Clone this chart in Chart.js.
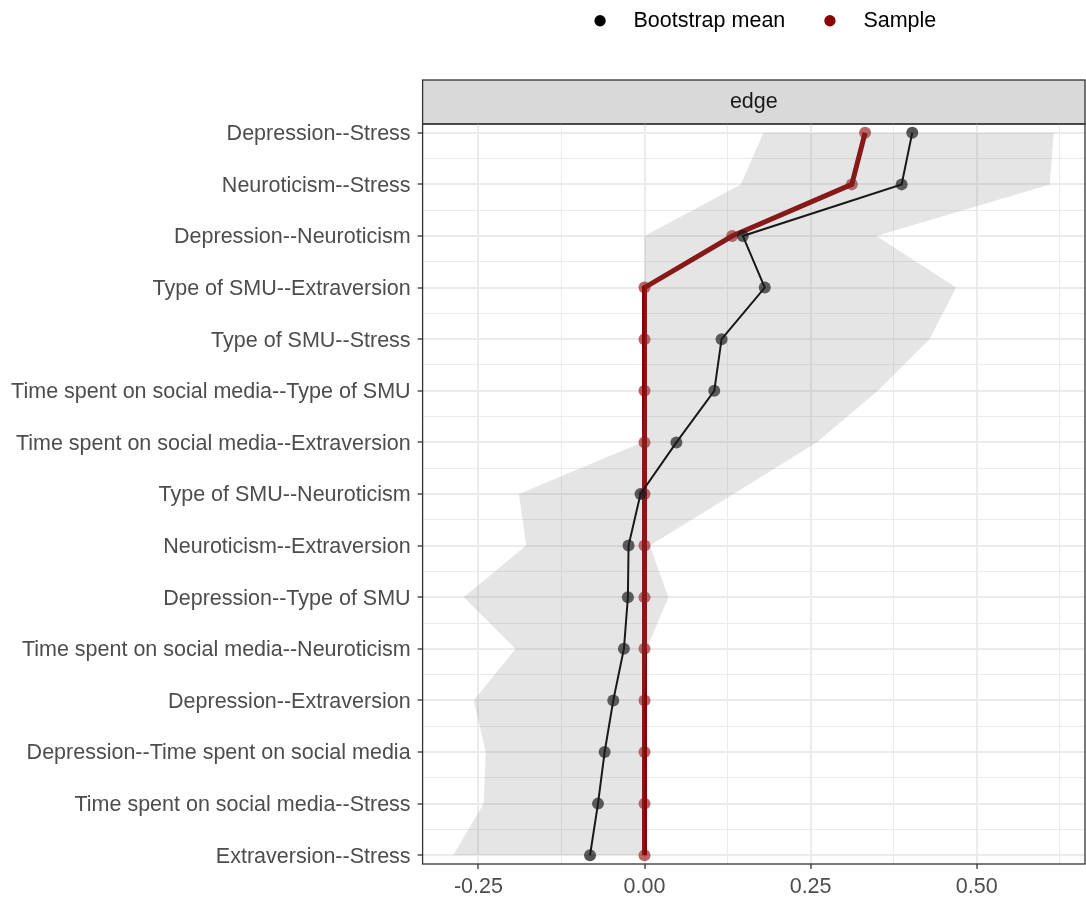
<!DOCTYPE html>
<html>
<head>
<meta charset="utf-8">
<script src="https://cdn.jsdelivr.net/npm/chart.js@4.4.1/dist/chart.umd.min.js"></script>
<style>
  html, body { margin: 0; padding: 0; background: #fff; }
  #wrap { width: 1086px; height: 899px; }
</style>
</head>
<body>
<div id="wrap"><canvas id="grafico"></canvas></div>
<script>
// edges, top to bottom
const edges = [
    "Depression--Stress",
    "Neuroticism--Stress",
    "Depression--Neuroticism",
    "Type of SMU--Extraversion",
    "Type of SMU--Stress",
    "Time spent on social media--Type of SMU",
    "Time spent on social media--Extraversion",
    "Type of SMU--Neuroticism",
    "Neuroticism--Extraversion",
    "Depression--Type of SMU",
    "Time spent on social media--Neuroticism",
    "Depression--Extraversion",
    "Depression--Time spent on social media",
    "Time spent on social media--Stress",
    "Extraversion--Stress"
];
const bootMean = [0.403, 0.387, 0.148, 0.181, 0.116, 0.105, 0.048, -0.006, -0.024, -0.025, -0.031, -0.047, -0.060, -0.070, -0.082];
const sample   = [0.332, 0.312, 0.132, 0, 0, 0, 0, 0, 0, 0, 0, 0, 0, 0, 0];
const ciLow    = [0.179, 0.145, 0.0, 0.0, 0.0, 0.0, -0.004, -0.189, -0.178, -0.272, -0.194, -0.257, -0.239, -0.242, -0.288];
const ciHigh   = [0.616, 0.610, 0.349, 0.469, 0.429, 0.351, 0.259, 0.134, 0.008, 0.036, 0.003, 0, 0, 0, 0];
const xMajor = [-0.25, 0, 0.25, 0.5];
const xMinor = [-0.125, 0.125, 0.375, 0.625];

const FONT = "'Liberation Sans', Arial, sans-serif";
const pts = arr => arr.map((v, i) => ({ x: v, y: i }));

// franja gris "edge", borde del panel y leyenda algo corrida a la derecha
const panelPlugin = {
    id: "panel",
    afterLayout(chart) {
        chart.legend.left += 9;
        chart.legend.right += 9;
    },
    beforeDraw(chart) {
        const a = chart.chartArea, c = chart.ctx;
        c.save();
        c.fillStyle = "#D9D9D9";
        c.fillRect(a.left, a.top - 44, a.right - a.left, 44);
        c.strokeStyle = "#333333";
        c.lineWidth = 1.3;
        c.strokeRect(a.left, a.top - 44, a.right - a.left, 44);
        c.restore();
    },
    afterDraw(chart) {
        const a = chart.chartArea, c = chart.ctx;
        c.save();
        c.strokeStyle = "#333333";
        c.lineWidth = 1.3;
        c.strokeRect(a.left, a.top, a.right - a.left, a.bottom - a.top);
        c.restore();
    }
};

new Chart(document.getElementById("grafico"), {
    type: "line",
    data: {
        datasets: [
            {
                label: "",
                data: pts(ciLow),
                borderWidth: 0,
                pointRadius: 0,
                fill: false
            },
            {
                label: "",
                data: pts(ciHigh),
                borderWidth: 0,
                pointRadius: 0,
                backgroundColor: "rgba(127,127,127,0.2)",
                fill: "-1"
            },
            {
                label: "  Bootstrap mean    ",
                data: pts(bootMean),
                borderColor: "#000000",
                backgroundColor: "#000000",
                borderWidth: 2,
                pointRadius: 6,
                pointBorderWidth: 0,
                pointBackgroundColor: "rgba(0,0,0,0.68)",
                pointStyle: "circle",
                tension: 0
            },
            {
                label: "  Sample",
                data: pts(sample),
                borderColor: "#8B0000",
                backgroundColor: "#8B0000",
                borderWidth: 5,
                pointRadius: 6,
                pointBorderWidth: 0,
                pointBackgroundColor: "rgba(139,0,0,0.6)",
                pointStyle: "circle",
                tension: 0
            }
        ]
    },
    options: {
        indexAxis: "y",
        responsive: true,
        maintainAspectRatio: false,
        animation: false,
        layout: { autoPadding: false, padding: { left: 0, right: 1, top: 0, bottom: 0 } },
        font: { family: FONT },
        scales: {
            x: {
                type: "linear",
                min: -0.334,
                max: 0.663,
                afterBuildTicks: s => {
                    s.ticks = xMajor.concat(xMinor).sort((a, b) => a - b).map(v => ({ value: v }));
                },
                afterFit: s => { s.height = 35; },
                ticks: {
                    autoSkip: false,
                    maxRotation: 0,
                    padding: 5,
                    color: "#4D4D4D",
                    font: { family: FONT, size: 21.5 },
                    callback: v => xMajor.includes(v) ? v.toFixed(2) : ""
                },
                grid: {
                    color: "#EBEBEB",
                    lineWidth: c => xMajor.includes(c.tick.value) ? 2 : 1,
                    tickLength: 5,
                    tickWidth: 1.3,
                    tickColor: c => xMajor.includes(c.tick.value) ? "#333333" : "rgba(0,0,0,0)"
                },
                border: { display: false }
            },
            y: {
                type: "linear",
                reverse: true,
                min: -0.17,
                max: edges.length - 1 + 0.17,
                afterBuildTicks: s => {
                    const t = [];
                    for (let i = 0; i <= (edges.length - 1) * 2; i++) t.push({ value: i / 2 });
                    s.ticks = t;
                },
                afterFit: s => { s.width = 422.6; },
                ticks: {
                    autoSkip: false,
                    padding: 7,
                    labelOffset: 1.5,
                    color: "#4D4D4D",
                    font: { family: FONT, size: 21.5 },
                    callback: v => Number.isInteger(v) ? edges[v] : ""
                },
                grid: {
                    color: "#EBEBEB",
                    lineWidth: c => Number.isInteger(c.tick.value) ? 2 : 1,
                    tickLength: 5,
                    tickWidth: 1.3,
                    tickColor: c => Number.isInteger(c.tick.value) ? "#333333" : "rgba(0,0,0,0)"
                },
                border: { display: false }
            }
        },
        plugins: {
            tooltip: { enabled: false },
            legend: {
                position: "top",
                fullSize: false,
                labels: {
                    usePointStyle: true,
                    boxHeight: 8,
                    padding: 10,
                    color: "#000000",
                    font: { family: FONT, size: 21.5 },
                    generateLabels: chart =>
                        Chart.defaults.plugins.legend.labels.generateLabels(chart)
                            .filter(l => l.text)
                            .map(l => Object.assign(l, {
                                lineWidth: 0,
                                pointStyle: "circle",
                                fillStyle: chart.data.datasets[l.datasetIndex].borderColor
                            }))
                }
            },
            title: {
                display: true,
                text: "edge",
                position: "top",
                fullSize: false,
                weight: 500,
                color: "#1A1A1A",
                font: { family: FONT, size: 21.5, weight: "normal" },
                padding: { top: 47.6, bottom: 9.1 }
            }
        }
    },
    plugins: [panelPlugin]
});
</script>
</body>
</html>
